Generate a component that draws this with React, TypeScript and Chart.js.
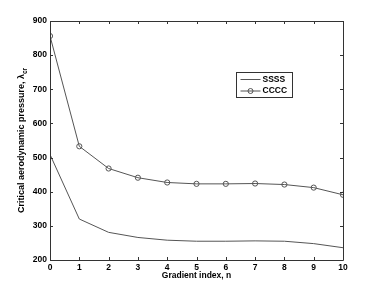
import React, { useEffect, useRef } from "react";
import { Chart, registerables } from "chart.js";

Chart.register(...registerables);

const gradientIndex = [0, 1, 2, 3, 4, 5, 6, 7, 8, 9, 10];
const ssssValues = [509, 320, 281, 266, 258, 255, 255, 256, 255, 248, 236];
const ccccValues = [856, 533, 468, 441, 427, 423, 423, 424, 421, 412, 391];
const seriesLabels = ["SSSS", "CCCC"];
const xTitle = "Gradient index, n";
const yTitleMain = "Critical aerodynamic pressure, λ";
const yTitleSub = "cr";

const FONT = "'Liberation Sans', Arial, Helvetica, sans-serif";
const LINE_COLOR = "#555555";
const AXIS_COLOR = "#333333";

const framePlugin = {
  id: "matlabFrame",
  afterDraw(chart: any) {
    const { ctx, chartArea } = chart;
    const { left, right, top, bottom } = chartArea;
    const xs = chart.scales.x;
    const ys = chart.scales.y;
    ctx.save();
    ctx.strokeStyle = AXIS_COLOR;
    ctx.lineWidth = 1;
    ctx.beginPath();
    ctx.rect(Math.round(left) + 0.5, Math.round(top) + 0.5, Math.round(right - left), Math.round(bottom - top));
    ctx.stroke();
    const tl = 3;
    ctx.beginPath();
    xs.ticks.forEach((t: any) => {
      const px = Math.round(xs.getPixelForValue(t.value)) + 0.5;
      ctx.moveTo(px, bottom);
      ctx.lineTo(px, bottom - tl);
      ctx.moveTo(px, top);
      ctx.lineTo(px, top + tl);
    });
    ys.ticks.forEach((t: any) => {
      const py = Math.round(ys.getPixelForValue(t.value)) + 0.5;
      ctx.moveTo(left, py);
      ctx.lineTo(left + tl, py);
      ctx.moveTo(right, py);
      ctx.lineTo(right - tl, py);
    });
    ctx.stroke();

    // axis titles
    ctx.fillStyle = "#000";
    ctx.font = `bold 8.5px ${FONT}`;
    ctx.textAlign = "center";
    ctx.textBaseline = "middle";
    ctx.fillText(xTitle, (left + right) / 2, 276);

    ctx.save();
    ctx.translate(22, (top + bottom) / 2);
    ctx.rotate(-Math.PI / 2);
    ctx.font = `bold 9px ${FONT}`;
    const mainW = ctx.measureText(yTitleMain).width;
    ctx.font = `bold 6.5px ${FONT}`;
    const subW = ctx.measureText(yTitleSub).width;
    const total = mainW + subW;
    ctx.textAlign = "left";
    ctx.font = `bold 9px ${FONT}`;
    ctx.fillText(yTitleMain, -total / 2, 0);
    ctx.font = `bold 6.5px ${FONT}`;
    ctx.fillText(yTitleSub, -total / 2 + mainW, 3);
    ctx.restore();

    // legend
    const lx = 236.5;
    const ly = 72.5;
    const lw = 56;
    const lh = 25;
    ctx.fillStyle = "#fff";
    ctx.fillRect(lx, ly, lw, lh);
    ctx.strokeStyle = AXIS_COLOR;
    ctx.strokeRect(lx, ly, lw, lh);
    chart.data.datasets.forEach((ds: any, i: number) => {
      const cy = ly + 7 + i * 11.5;
      ctx.strokeStyle = LINE_COLOR;
      ctx.lineWidth = 1;
      ctx.beginPath();
      ctx.moveTo(lx + 4, cy);
      ctx.lineTo(lx + 24, cy);
      ctx.stroke();
      if (ds.pointRadius > 0) {
        ctx.beginPath();
        ctx.arc(lx + 14, cy, 2.5, 0, Math.PI * 2);
        ctx.stroke();
      }
      ctx.fillStyle = "#000";
      ctx.font = `bold 8.5px ${FONT}`;
      ctx.textAlign = "left";
      ctx.textBaseline = "middle";
      ctx.fillText(ds.label, lx + 26, cy);
    });
    ctx.restore();
  },
};

export default function App() {
  const canvasRef = useRef<HTMLCanvasElement | null>(null);

  useEffect(() => {
    document.body.style.margin = "0";
    const canvas = canvasRef.current;
    if (!canvas) return;
    const chart = new Chart(canvas, {
      type: "line",
      data: {
        datasets: [
          {
            label: seriesLabels[0],
            data: gradientIndex.map((x, i) => ({ x, y: ssssValues[i] })),
            borderColor: LINE_COLOR,
            borderWidth: 1,
            pointRadius: 0,
            fill: false,
            tension: 0,
          },
          {
            label: seriesLabels[1],
            data: gradientIndex.map((x, i) => ({ x, y: ccccValues[i] })),
            borderColor: LINE_COLOR,
            borderWidth: 1,
            pointRadius: 2.6,
            pointBorderWidth: 1,
            pointBackgroundColor: "rgba(0,0,0,0)",
            pointBorderColor: LINE_COLOR,
            fill: false,
            tension: 0,
          },
        ],
      },
      options: {
        animation: false,
        responsive: false,
        devicePixelRatio: 1,
        layout: { padding: { top: 21, right: 46, left: 0, bottom: 0 } },
        plugins: { legend: { display: false }, tooltip: { enabled: false }, title: { display: false } },
        scales: {
          x: {
            type: "linear",
            min: 0,
            max: 10,
            ticks: { stepSize: 1, color: "#000", font: { family: FONT, size: 8.5, weight: "bold" }, padding: 3, maxRotation: 0 },
            grid: { display: false, drawTicks: false },
            border: { display: false },
            afterFit: (s: any) => {
              s.height = 32;
            },
          },
          y: {
            type: "linear",
            min: 200,
            max: 900,
            ticks: { stepSize: 100, color: "#000", font: { family: FONT, size: 8.5, weight: "bold" }, padding: 3 },
            grid: { display: false, drawTicks: false },
            border: { display: false },
            afterFit: (s: any) => {
              s.width = 50;
            },
          },
        },
      },
      plugins: [framePlugin],
    });
    return () => chart.destroy();
  }, []);

  return (
    <div style={{ position: "absolute", left: 0, top: 0, width: 389, height: 292, background: "#fff" }}>
      <canvas ref={canvasRef} width={389} height={292} style={{ width: 389, height: 292, display: "block" }} />
    </div>
  );
}
